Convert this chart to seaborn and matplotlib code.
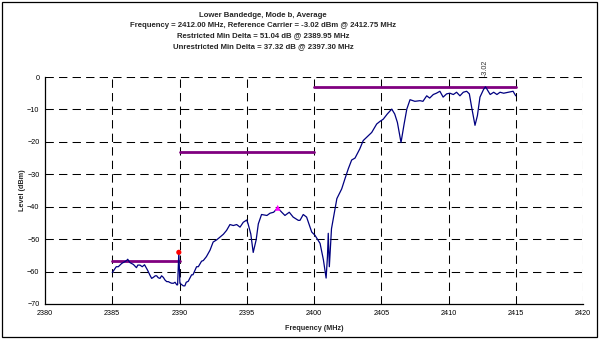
import numpy as np
import pandas as pd
import matplotlib
matplotlib.use("Agg")
import matplotlib.pyplot as plt
from matplotlib.patches import Rectangle
import seaborn as sns

# Measured spectrum trace (MHz, dBm)
freq_mhz = [
    2385.0, 2385.3, 2385.45, 2385.7, 2385.82, 2386.07, 2386.15, 2386.3, 2386.57, 2386.8,
    2386.9, 2387.06, 2387.23, 2387.4, 2387.63, 2387.8, 2387.93, 2388.05, 2388.2, 2388.3,
    2388.42, 2388.55, 2388.67, 2388.8, 2388.92, 2389.05, 2389.17, 2389.3, 2389.42, 2389.55,
    2389.67, 2389.8, 2389.86, 2389.95, 2390.03, 2390.28, 2390.4, 2390.5, 2390.65, 2390.9,
    2391.0, 2391.27, 2391.4, 2391.64, 2391.77, 2392.0, 2392.27,
    2392.5, 2392.77, 2393.0, 2393.26, 2393.5, 2393.75, 2394.0, 2394.25, 2394.5, 2394.74,
    2395.0, 2395.1, 2395.3, 2395.48, 2395.7, 2395.86, 2396.1, 2396.5, 2396.73, 2397.0,
    2397.3, 2397.6, 2397.84, 2398.16, 2398.45, 2398.83, 2398.96, 2399.2, 2399.45, 2399.83,
    2400.07, 2400.45, 2400.7, 2400.9, 2401.0, 2401.06, 2401.14, 2401.3, 2401.7, 2402.06,
    2402.3, 2402.55, 2402.8, 2403.05, 2403.4, 2403.66, 2404.04, 2404.29, 2404.66, 2404.9,
    2405.15, 2405.45, 2405.78, 2406.0, 2406.2, 2406.47, 2406.7, 2406.9, 2407.14, 2407.5,
    2407.88, 2408.1, 2408.38, 2408.6, 2408.87, 2409.1, 2409.36, 2409.6, 2409.86, 2410.1,
    2410.36, 2410.6, 2410.85, 2411.1, 2411.35, 2411.55, 2411.72, 2411.97, 2412.15, 2412.34,
    2412.6, 2412.75, 2413.1, 2413.36, 2413.6, 2413.83, 2414.1, 2414.45, 2414.8, 2415.0,
]
level_dbm = [
    -60.3, -58.5, -58.5, -57.5, -57.2, -56.6, -56.2, -57.2, -57.8, -58.8,
    -58.0, -58.0, -58.5, -57.9, -59.6, -61.1, -62.1, -61.8, -61.3, -61.3,
    -61.9, -62.1, -61.3, -61.8, -62.6, -63.1, -63.1, -63.4, -63.6, -63.6,
    -63.3, -64.1, -64.1, -54.06, -63.6, -64.4, -64.4, -63.3, -63.0, -61.0,
    -61.0, -58.5, -58.5, -56.8, -56.6, -55.4, -53.4,
    -50.9, -50.2, -49.4, -48.5, -47.3, -45.5, -45.8, -45.5, -46.3, -44.8,
    -44.1, -45.3, -48.4, -54.1, -50.2, -45.3, -42.4, -42.7, -42.0, -41.7,
    -40.34, -41.7, -42.7, -41.7, -43.2, -44.2, -44.2, -42.4, -43.2, -47.8,
    -48.8, -51.3, -56.4, -62.0, -55.4, -48.2, -58.5, -46.8, -37.5, -34.5,
    -31.4, -28.3, -25.6, -25.0, -22.2, -19.6, -18.1, -17.1, -14.5, -13.7,
    -13.0, -11.4, -9.9, -11.4, -14.0, -20.2, -14.5, -9.9, -7.0, -7.5,
    -7.3, -7.5, -5.8, -6.5, -5.4, -5.0, -4.4, -6.2, -5.2, -5.0,
    -5.4, -4.7, -5.8, -4.7, -4.4, -5.2, -9.3, -14.9, -11.9, -6.2,
    -3.9, -3.02, -5.4, -4.7, -5.4, -4.7, -5.0, -4.7, -4.4, -5.8,
]

# Limit segments: (start MHz, stop MHz, level dBm)
limit_start = [2385.0, 2390.0, 2400.0]
limit_stop = [2390.0, 2400.0, 2415.0]
limit_level = [-56.6, -23.02, -3.02]

# Markers
restricted_freq, restricted_level = 2389.95, -54.06
unrestricted_freq, unrestricted_level = 2397.30, -40.34
carrier_freq, carrier_level = 2412.75, -3.02

x_ticks = [2380, 2385, 2390, 2395, 2400, 2405, 2410, 2415, 2420]
y_ticks = [0, -10, -20, -30, -40, -50, -60, -70]

title_lines = [
    "Lower Bandedge, Mode b, Average",
    "Frequency = 2412.00 MHz, Reference Carrier = -3.02 dBm @ 2412.75 MHz",
    "Restricted Min Delta = 51.04 dB @ 2389.95 MHz",
    "Unrestricted Min Delta = 37.32 dB @ 2397.30 MHz",
]

sns.set_style("white")
plt.rcParams["font.family"] = ["Liberation Sans", "DejaVu Sans"]

fig = plt.figure(figsize=(6.0, 3.39), dpi=100)
ax = fig.add_axes([45 / 600, 1 - 304 / 339, (583 - 45) / 600, (304 - 77) / 339])

trace = pd.DataFrame({"freq": freq_mhz, "level": level_dbm})
limits = pd.DataFrame({
    "freq": [v for pair in zip(limit_start, limit_stop) for v in pair],
    "level": [v for v in limit_level for _ in range(2)],
    "seg": [i for i in range(len(limit_level)) for _ in range(2)],
})

# dashed grid drawn beneath the data
for xv in x_ticks[1:]:
    ax.axvline(xv, color="black", lw=0.75, ls=(0, (8, 5)), zorder=1)
for yv in y_ticks[:-1]:
    ax.axhline(yv, color="black", lw=0.75, ls=(0, (8, 5)), zorder=1)

sns.lineplot(data=limits, x="freq", y="level", units="seg", estimator=None,
             color="#800080", lw=2.0, ax=ax, zorder=3)
sns.lineplot(data=trace, x="freq", y="level", sort=False, estimator=None,
             color="#000080", lw=0.9, ax=ax, zorder=4)
sns.scatterplot(x=[restricted_freq], y=[restricted_level], color="#ff0000",
                s=14, marker="o", edgecolor="none", ax=ax, zorder=5)
sns.scatterplot(x=[unrestricted_freq], y=[unrestricted_level], color="#ff00ff",
                s=18, marker="^", edgecolor="none", ax=ax, zorder=5)

ax.text(carrier_freq, 0.3, f"{carrier_level:.2f}", rotation=90, ha="center",
        va="bottom", fontsize=5.2, color="#333333", clip_on=False)

ax.set_xlim(2380, 2420)
ax.set_ylim(-70, 0)
ax.set_xticks(x_ticks)
ax.set_yticks(y_ticks)
ax.tick_params(axis="both", labelsize=5.2, direction="inout", length=4,
               width=0.8, colors="black", pad=2)
for side in ("top", "right"):
    ax.spines[side].set_visible(False)
for side in ("left", "bottom"):
    ax.spines[side].set_color("black")
    ax.spines[side].set_linewidth(0.9)
ax.set_xlabel("Frequency (MHz)", fontsize=5.2, fontweight="bold", labelpad=6)
ax.set_ylabel("Level (dBm)", fontsize=5.2, fontweight="bold", labelpad=1)
ax.grid(False)

fig.text(263 / 600, 1 - 31 / 339, "\n".join(title_lines), ha="center", va="center",
         fontsize=5.6, fontweight="bold", linespacing=1.62)

fig.patches.append(Rectangle((2 / 600, 2 / 339), 595 / 600, 335 / 339,
                             transform=fig.transFigure, fill=False,
                             edgecolor="black", lw=0.9))

fig.savefig("out.png", dpi=100)
